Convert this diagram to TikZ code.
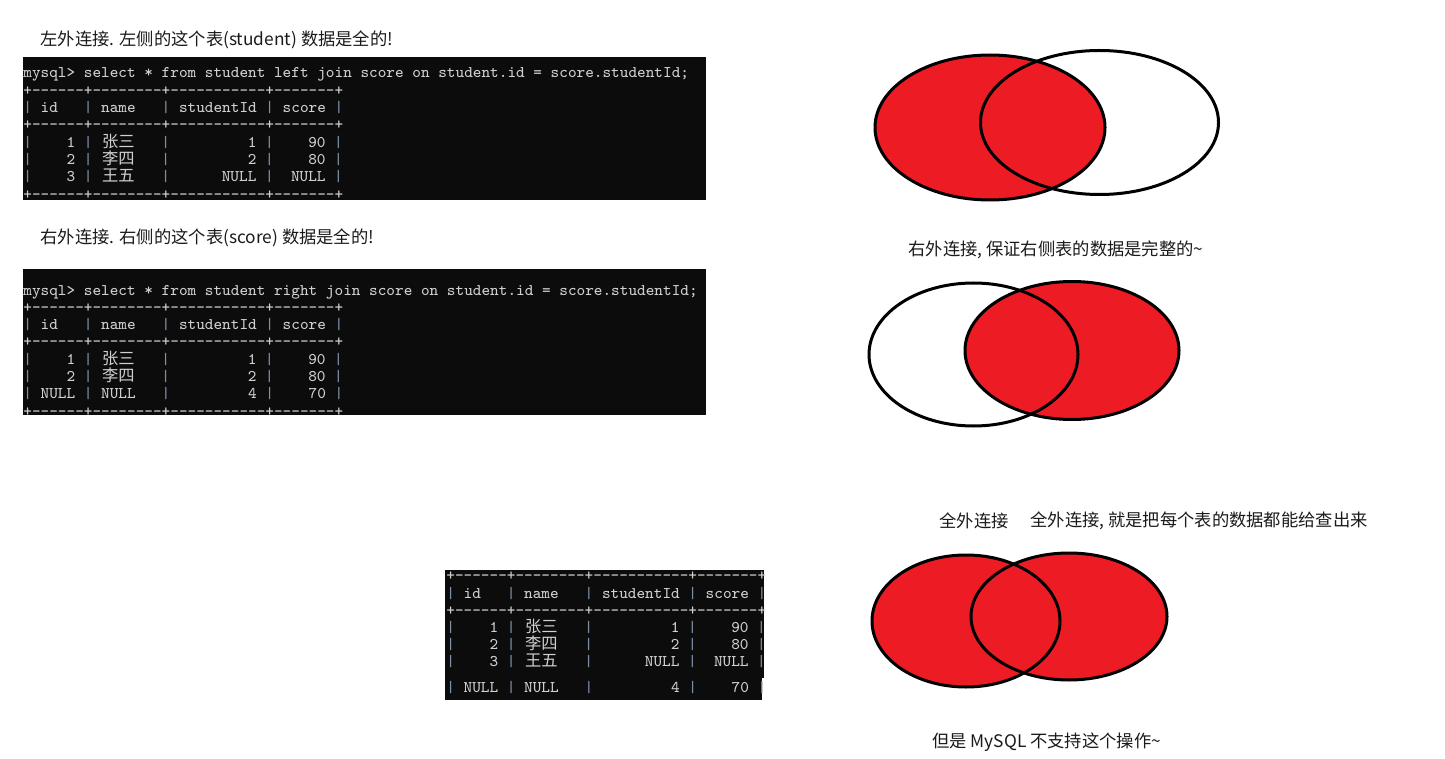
\documentclass[tikz,border=0pt]{standalone}
\usepackage{fontspec}
\setmonofont{Latin Modern Mono}
\newfontfamily\cjk{Noto Sans CJK SC}
\usetikzlibrary{positioning}

\definecolor{vennred}{HTML}{ED1C24}
\definecolor{termbg}{HTML}{0C0C0C}
\definecolor{termtxt}{HTML}{D0D0D0}
\definecolor{termbar}{HTML}{7A8EA6}
\definecolor{captxt}{HTML}{1A1A1A}

% one CJK pair takes four terminal columns
\newcommand\zh[1]{\makebox[17.1pt][c]{\cjk #1}}
\newcommand\vb{\textcolor{termbar}{|}}
\newcommand\bd{+------+--------+-----------+-------+}

\tikzset{
  caption/.style={anchor=west, inner sep=0pt, text=captxt,
    font={\fontsize{8.65}{10}\selectfont\cjk}},
  tline/.style={anchor=base west, inner sep=0pt, text=termtxt,
    font={\fontsize{8.14}{8.65}\selectfont\ttfamily}},
  venn/.style={draw=black, line width=1.5pt},
}

\begin{document}
\begin{tikzpicture}[x=0.5pt, y=-0.5pt]
\useasboundingbox (0,0) rectangle (1445,759);

% Left join
\node[caption] (capleft) at (40,40) {左外连接. 左侧的这个表(student) 数据是全的!};
\fill[termbg] (23,57) rectangle (706,200);
\foreach \ln [count=\i from 0] in {
  {mysql> select * from student left join score on student.id = score.studentId;},
  {\bd},
  {\vb~id~~~\vb~name~~~\vb~studentId~\vb~score~\vb},
  {\bd},
  {\vb~~~~1~\vb~\zh{张三}~~~\vb~~~~~~~~~1~\vb~~~~90~\vb},
  {\vb~~~~2~\vb~\zh{李四}~~~\vb~~~~~~~~~2~\vb~~~~80~\vb},
  {\vb~~~~3~\vb~\zh{王五}~~~\vb~~~~~~NULL~\vb~~NULL~\vb},
  {\bd}}
  \node[tline] (lj\i) at (23,78+17.3*\i) {\ln};

% Right join
\node[caption] (capright) at (40,238) {右外连接. 右侧的这个表(score) 数据是全的!};
\fill[termbg] (23,269) rectangle (706,415);
\foreach \ln [count=\i from 0] in {
  {mysql> select * from student right join score on student.id = score.studentId;},
  {\bd},
  {\vb~id~~~\vb~name~~~\vb~studentId~\vb~score~\vb},
  {\bd},
  {\vb~~~~1~\vb~\zh{张三}~~~\vb~~~~~~~~~1~\vb~~~~90~\vb},
  {\vb~~~~2~\vb~\zh{李四}~~~\vb~~~~~~~~~2~\vb~~~~80~\vb},
  {\vb~NULL~\vb~NULL~~~\vb~~~~~~~~~4~\vb~~~~70~\vb},
  {\bd}}
  \node[tline] (rj\i) at (23,295+17.3*\i) {\ln};

% Full join (pasted table)
\fill[termbg] (445,570) rectangle (764,678);
\fill[termbg] (445,678) rectangle (762,700);
\foreach \ln [count=\i from 0] in {
  {\bd},
  {\vb~id~~~\vb~name~~~\vb~studentId~\vb~score~\vb},
  {\bd},
  {\vb~~~~1~\vb~\zh{张三}~~~\vb~~~~~~~~~1~\vb~~~~90~\vb},
  {\vb~~~~2~\vb~\zh{李四}~~~\vb~~~~~~~~~2~\vb~~~~80~\vb},
  {\vb~~~~3~\vb~\zh{王五}~~~\vb~~~~~~NULL~\vb~~NULL~\vb}}
  \node[tline] (fj\i) at (446,580.8+17.2*\i) {\ln};
\node[tline] (fjnull) at (446,692) {\vb~NULL~\vb~NULL~~~\vb~~~~~~~~~4~\vb~~~~70~\vb};

% Venn: left join
\fill[vennred] (990,127.5) ellipse [x radius=115, y radius=72.5];
\draw[venn] (990,127.5) ellipse [x radius=115, y radius=72.5];
\draw[venn] (1099.5,122.5) ellipse [x radius=119, y radius=72];
\node[caption] (capvright) at (908,250) {右外连接, 保证右侧表的数据是完整的\char`\~};

% Venn: right join
\fill[vennred] (1072,350.5) ellipse [x radius=107, y radius=69];
\draw[venn] (973.5,354.5) ellipse [x radius=104.5, y radius=71.5];
\draw[venn] (1072,350.5) ellipse [x radius=107, y radius=69];

% Venn: full join
\node[caption] (capfull) at (939,521) {全外连接};
\node[caption] (capfullnote) at (1030,521) {全外连接, 就是把每个表的数据都能给查出来};
\fill[vennred] (966,621) ellipse [x radius=94, y radius=66];
\fill[vennred] (1069,616.5) ellipse [x radius=98, y radius=63.5];
\draw[venn] (966,621) ellipse [x radius=94, y radius=66];
\draw[venn] (1069,616.5) ellipse [x radius=98, y radius=63.5];
\node[caption] (capmysql) at (932,742) {但是 MySQL 不支持这个操作\char`\~};

\end{tikzpicture}
\end{document}
